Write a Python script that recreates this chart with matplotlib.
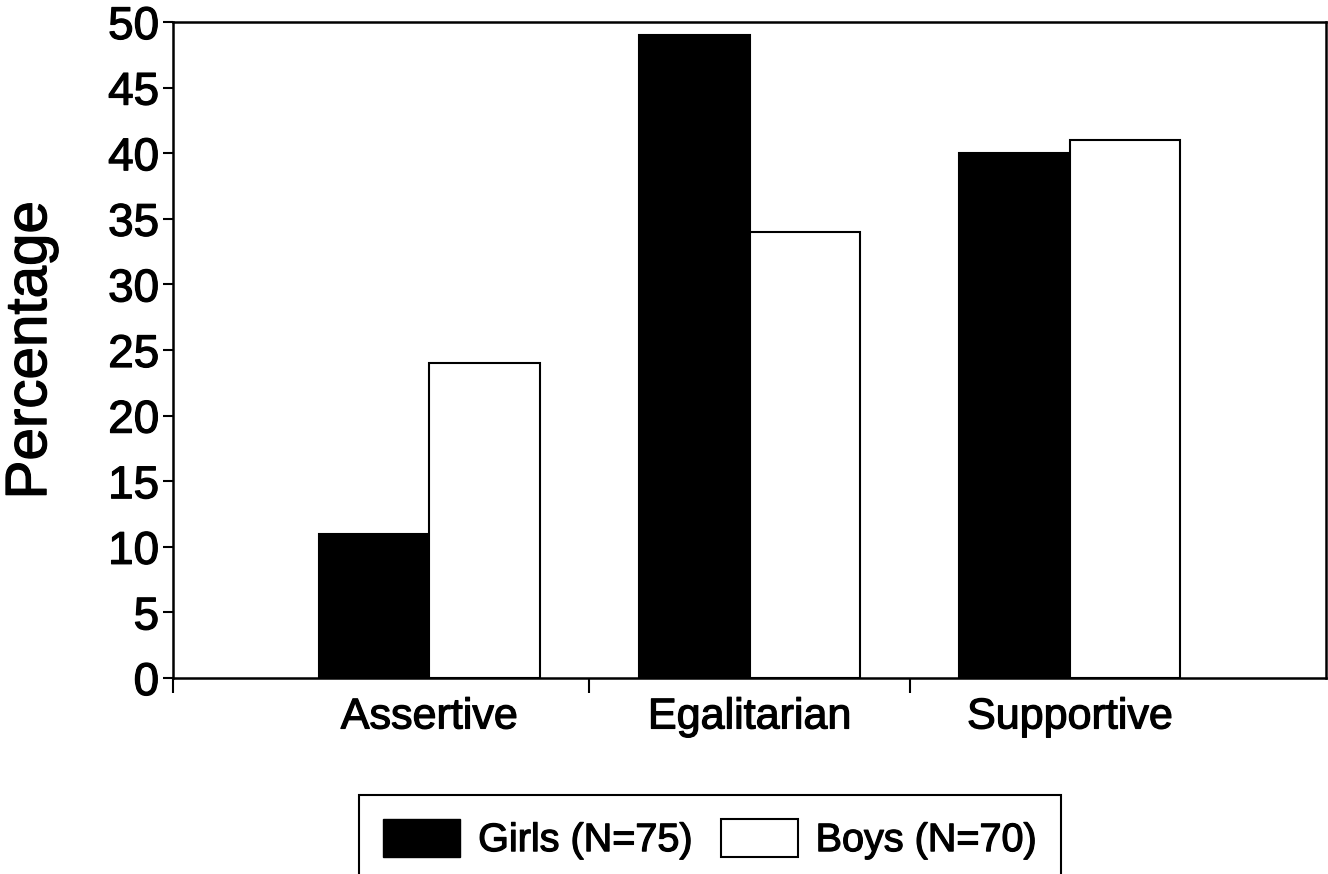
import matplotlib.pyplot as plt
import matplotlib.patheffects as pe
import numpy as np
from matplotlib.patches import Patch

plt.rcParams['font.family'] = ['Liberation Sans', 'DejaVu Sans']

categories = ["Assertive", "Egalitarian", "Supportive"]
girls = [11, 49, 40]
boys = [24, 34, 41]
series_labels = ["Girls (N=75)", "Boys (N=70)"]
y_ticks = [0, 5, 10, 15, 20, 25, 30, 35, 40, 45, 50]

fig = plt.figure(figsize=(13.28, 8.74), dpi=100)
ax = fig.add_axes([173 / 1328, 1 - 678 / 874, (1326 - 173) / 1328, (678 - 22) / 874])

x = np.arange(len(categories))
w = 0.345
ax.bar(x - w / 2, girls, width=w, color="black", edgecolor="black", linewidth=1.5)
ax.bar(x + w / 2, boys, width=w, color="white", edgecolor="black", linewidth=1.5)

ax.set_xlim(-0.8, 2.8)
ax.set_ylim(0, 50)
ax.set_yticks(y_ticks)
ax.tick_params(axis="y", labelsize=33, length=7, width=1.5, direction="out", pad=3)

ax.set_xticks(x)
ax.set_xticklabels(categories)
ax.tick_params(axis="x", which="major", length=0, labelsize=31, pad=14)
ax.set_xticks([-0.8, 0.5, 1.5], minor=True)
ax.tick_params(axis="x", which="minor", length=11, width=1.5, direction="out")

for s in ax.spines.values():
    s.set_linewidth(1.8)

ax.set_ylabel("Percentage", fontsize=42, labelpad=36)

handles = [Patch(facecolor="black", edgecolor="black"),
           Patch(facecolor="white", edgecolor="black", linewidth=1.5)]
leg = fig.legend(handles, series_labels, loc="upper center",
                 bbox_to_anchor=(710 / 1328, 1 - 783 / 874), ncol=2,
                 fontsize=28.5, handlelength=1.95, handleheight=1.1,
                 borderpad=0.6, borderaxespad=0.3, columnspacing=0.7,
                 handletextpad=0.45,
                 fancybox=False, edgecolor="black", framealpha=1)
leg.get_frame().set_linewidth(1.5)

# scanned print looks a bit heavier than regular weight
thick = [pe.withStroke(linewidth=0.9, foreground="black")]
for t in (ax.get_xticklabels() + ax.get_yticklabels() + leg.get_texts()
          + [ax.yaxis.label]):
    t.set_path_effects(thick)

fig.savefig("out.png", dpi=100)
